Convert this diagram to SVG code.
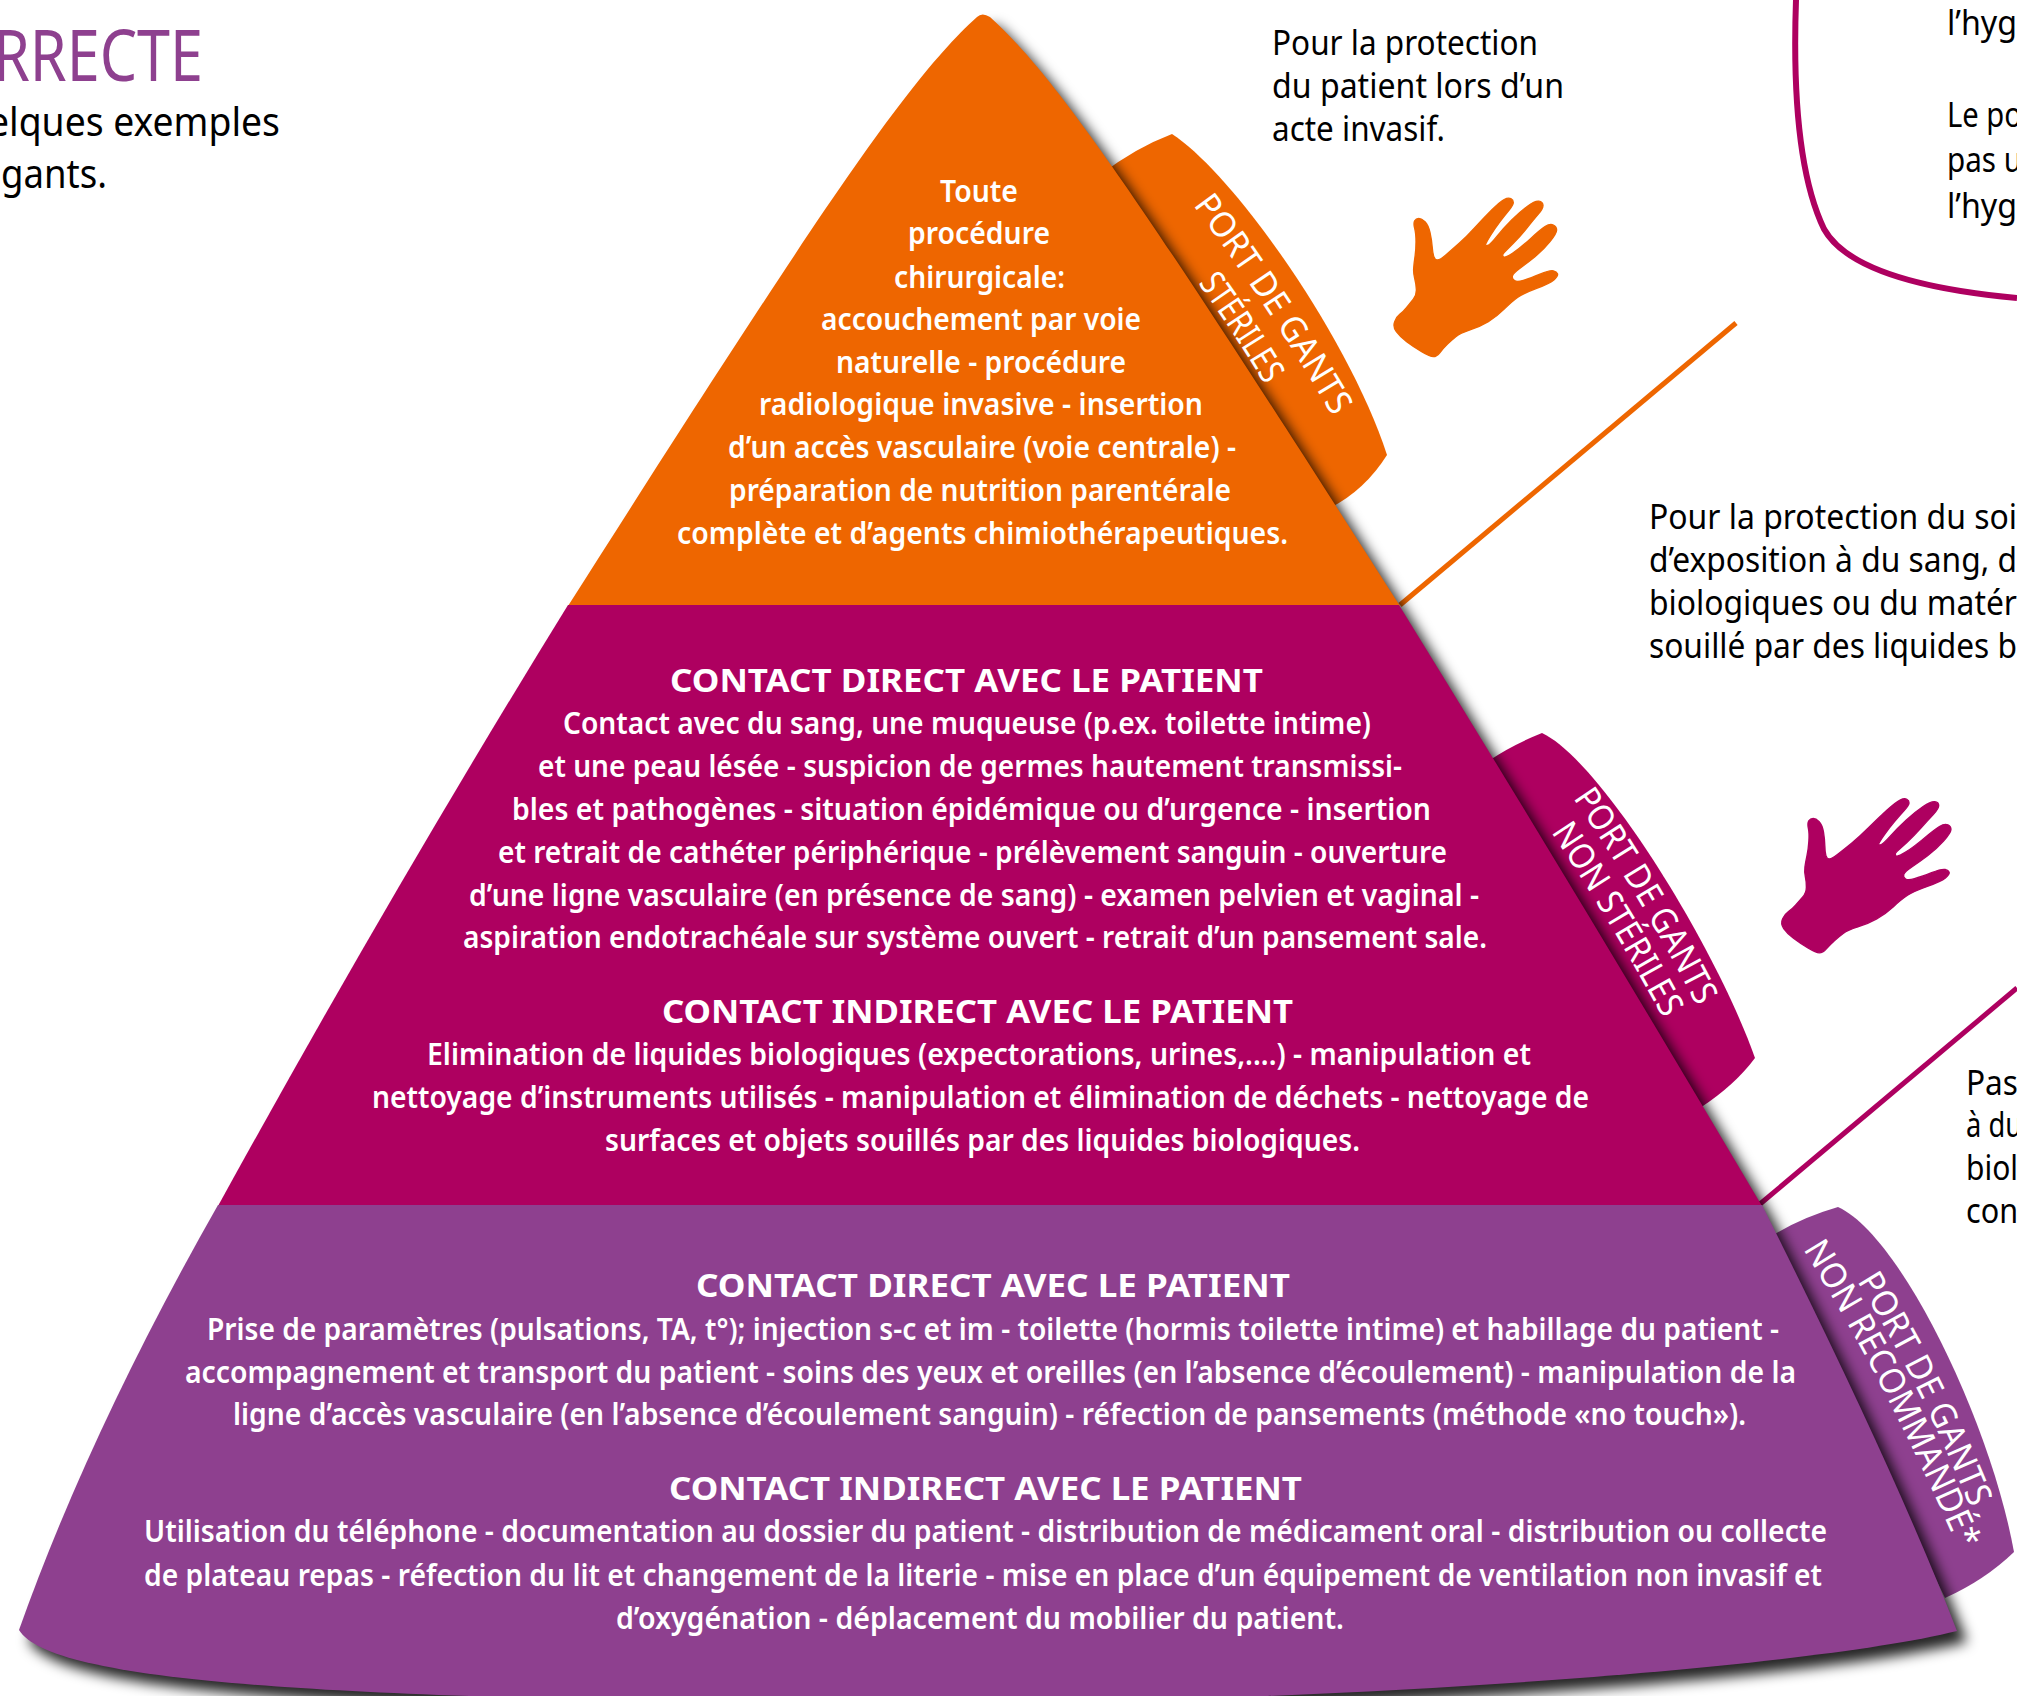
<svg xmlns="http://www.w3.org/2000/svg" width="2017" height="1696" viewBox="0 0 2017 1696">
<style>
text{font-family:"Noto Sans","Open Sans","Liberation Sans",sans-serif}
.b{font-size:30px;font-weight:600;fill:#fff}
.h{font-size:33px;font-weight:700;fill:#fff}
.n{font-size:34px;fill:#000}
.l{font-size:35px;fill:#fff}
.o{fill:#EE6600}.m{fill:#AE0060}.p{fill:#8E408F}
.c{fill:none;stroke-width:5}
</style>
<defs>
<filter id="blur" x="-5%" y="-5%" width="110%" height="110%"><feGaussianBlur stdDeviation="6.5"/></filter>
<path id="hand" stroke-width="4" stroke-linejoin="round" d="M160,560 Q150,560 125,545 Q100,530 80,515 Q60,500 49,485 Q38,470 44,455 Q50,440 60,432.5 Q70,425 80,412.5 Q90,400 100,387.5 Q110,375 109,357.5 Q108,340 104,325 Q100,310 101,295 Q102,280 105,260 Q108,240 108,215 Q108,190 104,175 Q100,160 104,152.5 Q108,145 116.5,145 Q125,145 135,155 Q145,165 150,187.5 Q155,210 156.5,230 Q158,250 161.5,260 Q165,270 172.5,270 Q180,270 197.5,255 Q215,240 237.5,220 Q260,200 285,172.5 Q310,145 335,120 Q360,95 372.5,88.5 Q385,82 392.5,86 Q400,90 400,97.5 Q400,105 387.5,120 Q375,135 360,155 Q345,175 332.5,195 Q320,215 317.5,221.5 Q315,228 322.5,226.5 Q330,225 350,200 Q370,175 395,150 Q420,125 442.5,108.5 Q465,92 476.5,93.5 Q488,95 489,105 Q490,115 475,132.5 Q460,150 440,175 Q420,200 400,220 Q380,240 372.5,247.5 Q365,255 370,260 Q375,265 397.5,250 Q420,235 450,207.5 Q480,180 495,170 Q510,160 520,165 Q530,170 530,180 Q530,190 510,215 Q490,240 465,260 Q440,280 420,295 Q400,310 397.5,317.5 Q395,325 402.5,331 Q410,337 430,331 Q450,325 480,312.5 Q510,300 520,302.5 Q530,305 532.5,311.5 Q535,318 522.5,329 Q510,340 470,355 Q430,370 412.5,382.5 Q395,395 372.5,417.5 Q350,440 325,455 Q300,470 270,480 Q240,490 227.5,500 Q215,510 202.5,522.5 Q190,535 180,547.5 Q170,560 160,560Z"/>
<path id="t1a" d="M1193,205Q1268,305 1333,417L1353,452"/>
<path id="t1b" d="M1198,283Q1232,330 1262,380L1282,414"/>
<path id="t2a" d="M1573,798Q1640,895 1700,1012L1720,1051"/>
<path id="t2b" d="M1551,832Q1610,920 1663,1018L1683,1055"/>
<path id="t3a" d="M1857,1281Q1918,1380 1966,1497L1986,1546"/>
<path id="t3b" d="M1803,1249Q1885,1380 1958,1548L1978,1594"/>
</defs>
<g id="intro">
<text x="-7" y="81" style="font-size:71px;fill:#8E408F" textLength="210" lengthAdjust="spacingAndGlyphs">RRECTE</text>
<text x="-12" y="136" style="font-size:40px;fill:#000" textLength="292" lengthAdjust="spacingAndGlyphs">elques exemples</text>
<text x="1" y="188" style="font-size:40px;fill:#000" textLength="106" lengthAdjust="spacingAndGlyphs">gants.</text>
</g>
<g id="connectors">
<path class="c" style="stroke-width:6" stroke="#AE0060" d="M1796,0C1793,85 1798,175 1824,229C1848,272 1930,290 2017,298"/>
<path class="c" stroke="#EE6600" d="M1400,605L1736,323"/>
<path class="c" stroke="#AE0060" d="M1760,1204L2017,988"/>
</g>
<g id="note-hygiene">
<text class="n" x="1947" y="35" textLength="70" lengthAdjust="spacingAndGlyphs">l’hyg</text>
<text class="n" x="1947" y="127" textLength="75" lengthAdjust="spacingAndGlyphs">Le po</text>
<text class="n" x="1947" y="172" textLength="75" lengthAdjust="spacingAndGlyphs">pas u</text>
<text class="n" x="1947" y="218" textLength="70" lengthAdjust="spacingAndGlyphs">l’hyg</text>
</g>
<g id="note-sterile">
<text class="n" x="1272" y="55" textLength="266" lengthAdjust="spacingAndGlyphs">Pour la protection</text>
<text class="n" x="1272" y="98" textLength="292" lengthAdjust="spacingAndGlyphs">du patient lors d’un</text>
<text class="n" x="1272" y="141" textLength="173" lengthAdjust="spacingAndGlyphs">acte invasif.</text>
</g>
<g id="note-non-sterile">
<text class="n" x="1649" y="529" textLength="368" lengthAdjust="spacingAndGlyphs">Pour la protection du soi</text>
<text class="n" x="1649" y="572" textLength="368" lengthAdjust="spacingAndGlyphs">d’exposition à du sang, d</text>
<text class="n" x="1649" y="615" textLength="368" lengthAdjust="spacingAndGlyphs">biologiques ou du matér</text>
<text class="n" x="1649" y="658" textLength="368" lengthAdjust="spacingAndGlyphs">souillé par des liquides b</text>
</g>
<g id="note-none">
<text class="n" x="1966" y="1095" textLength="52" lengthAdjust="spacingAndGlyphs">Pas</text>
<text class="n" x="1966" y="1137" textLength="56" lengthAdjust="spacingAndGlyphs">à du</text>
<text class="n" x="1966" y="1180" textLength="52" lengthAdjust="spacingAndGlyphs">biol</text>
<text class="n" x="1966" y="1223" textLength="52" lengthAdjust="spacingAndGlyphs">con</text>
</g>
<g id="hand-orange"><use href="#hand" class="o" stroke="#EE6600" transform="translate(1380,170) scale(.3333)"/></g>
<g id="hand-magenta"><use href="#hand" class="m" stroke="#AE0060" transform="translate(1770,771.4) matrix(.335,0,-.02,.324,7,0)"/></g>
<g id="tab-orange"><path class="o" d="M1100,175Q1135,148 1172,134C1235,175 1350,340 1387,455Q1365,490 1330,508Z"/></g>
<g id="tab-magenta"><path class="m" d="M1490,760Q1512,745 1542,733C1600,760 1715,945 1755,1058Q1735,1085 1700,1108Z"/></g>
<g id="tab-purple"><path class="p" d="M1772,1236Q1800,1218 1838,1207C1900,1235 1990,1420 2014,1552Q1985,1580 1945,1598Z"/></g>
<path id="pyramid-shadow" transform="translate(10,11)" filter="url(#blur)" fill="#000" fill-opacity=".85" d="M977,17Q982,12 990,17C1060,80 1150,215 1399,605Q1578,895 1762,1206Q1895,1470 1957,1631C1800,1670 1300,1705 900,1703C300,1700 50,1680 19,1630Q90,1430 218,1205Q389,895 568,605C817,215 907,80 977,17Z"/>
<g id="tier-orange">
<path class="o" d="M977,17Q982,12 990,17C1060,80 1150,215 1400,606L568,606C817,215 907,80 977,17Z"/>
<text class="b" x="940" y="202" textLength="78" lengthAdjust="spacingAndGlyphs">Toute</text>
<text class="b" x="908" y="244" textLength="142" lengthAdjust="spacingAndGlyphs">procédure</text>
<text class="b" x="894" y="288" textLength="171" lengthAdjust="spacingAndGlyphs">chirurgicale:</text>
<text class="b" x="821" y="330" textLength="320" lengthAdjust="spacingAndGlyphs">accouchement par voie</text>
<text class="b" x="836" y="373" textLength="290" lengthAdjust="spacingAndGlyphs">naturelle - procédure</text>
<text class="b" x="759" y="415" textLength="444" lengthAdjust="spacingAndGlyphs">radiologique invasive - insertion</text>
<text class="b" x="728" y="458" textLength="508" lengthAdjust="spacingAndGlyphs">d’un accès vasculaire (voie centrale) -</text>
<text class="b" x="729" y="501" textLength="502" lengthAdjust="spacingAndGlyphs">préparation de nutrition parentérale</text>
<text class="b" x="677" y="544" textLength="611" lengthAdjust="spacingAndGlyphs">complète et d’agents chimiothérapeutiques.</text>
</g>
<g id="tier-magenta">
<path class="m" d="M568,605L1399,605Q1578,895 1762,1206L218,1206Q389,895 568,605Z"/>
<text class="h" x="670" y="692" textLength="593" lengthAdjust="spacingAndGlyphs">CONTACT DIRECT AVEC LE PATIENT</text>
<text class="b" x="563" y="734" textLength="808" lengthAdjust="spacingAndGlyphs">Contact avec du sang, une muqueuse (p.ex. toilette intime)</text>
<text class="b" x="538" y="777" textLength="864" lengthAdjust="spacingAndGlyphs">et une peau lésée - suspicion de germes hautement transmissi-</text>
<text class="b" x="512" y="820" textLength="919" lengthAdjust="spacingAndGlyphs">bles et pathogènes - situation épidémique ou d’urgence - insertion</text>
<text class="b" x="498" y="863" textLength="949" lengthAdjust="spacingAndGlyphs">et retrait de cathéter périphérique - prélèvement sanguin - ouverture</text>
<text class="b" x="469" y="906" textLength="1010" lengthAdjust="spacingAndGlyphs">d’une ligne vasculaire (en présence de sang) - examen pelvien et vaginal -</text>
<text class="b" x="463" y="948" textLength="1024" lengthAdjust="spacingAndGlyphs">aspiration endotrachéale sur système ouvert - retrait d’un pansement sale.</text>
<text class="h" x="662" y="1023" textLength="631" lengthAdjust="spacingAndGlyphs">CONTACT INDIRECT AVEC LE PATIENT</text>
<text class="b" x="427" y="1065" textLength="1104" lengthAdjust="spacingAndGlyphs">Elimination de liquides biologiques (expectorations, urines,....) - manipulation et</text>
<text class="b" x="372" y="1108" textLength="1217" lengthAdjust="spacingAndGlyphs">nettoyage d’instruments utilisés - manipulation et élimination de déchets - nettoyage de</text>
<text class="b" x="605" y="1151" textLength="755" lengthAdjust="spacingAndGlyphs">surfaces et objets souillés par des liquides biologiques.</text>
</g>
<g id="tier-purple">
<path class="p" d="M218,1205L1762,1205Q1895,1470 1957,1631C1800,1670 1300,1705 900,1703C300,1700 50,1680 19,1630Q90,1430 218,1205Z"/>
<text class="h" x="696" y="1297" textLength="594" lengthAdjust="spacingAndGlyphs">CONTACT DIRECT AVEC LE PATIENT</text>
<text class="b" x="207" y="1340" textLength="1572" lengthAdjust="spacingAndGlyphs">Prise de paramètres (pulsations, TA, t°); injection s-c et im - toilette (hormis toilette intime) et habillage du patient -</text>
<text class="b" x="185" y="1383" textLength="1611" lengthAdjust="spacingAndGlyphs">accompagnement et transport du patient - soins des yeux et oreilles (en l’absence d’écoulement) - manipulation de la</text>
<text class="b" x="233" y="1425" textLength="1513" lengthAdjust="spacingAndGlyphs">ligne d’accès vasculaire (en l’absence d’écoulement sanguin) - réfection de pansements (méthode «no touch»).</text>
<text class="h" x="669" y="1500" textLength="633" lengthAdjust="spacingAndGlyphs">CONTACT INDIRECT AVEC LE PATIENT</text>
<text class="b" x="144" y="1542" textLength="1683" lengthAdjust="spacingAndGlyphs">Utilisation du téléphone - documentation au dossier du patient - distribution de médicament oral - distribution ou collecte</text>
<text class="b" x="144" y="1586" textLength="1678" lengthAdjust="spacingAndGlyphs">de plateau repas - réfection du lit et changement de la literie - mise en place d’un équipement de ventilation non invasif et</text>
<text class="b" x="616" y="1629" textLength="728" lengthAdjust="spacingAndGlyphs">d’oxygénation - déplacement du mobilier du patient.</text>
</g>
<g id="tab-labels">
<text class="l"><textPath href="#t1a" textLength="254" lengthAdjust="spacingAndGlyphs">PORT DE GANTS</textPath></text>
<text class="l"><textPath href="#t1b" textLength="122" lengthAdjust="spacingAndGlyphs">STÉRILES</textPath></text>
<text class="l"><textPath href="#t2a" textLength="243" lengthAdjust="spacingAndGlyphs">PORT DE GANTS</textPath></text>
<text class="l"><textPath href="#t2b" textLength="218" lengthAdjust="spacingAndGlyphs">NON STÉRILES</textPath></text>
<text class="l"><textPath href="#t3a" textLength="254" lengthAdjust="spacingAndGlyphs">PORT DE GANTS</textPath></text>
<text class="l"><textPath href="#t3b" textLength="340" lengthAdjust="spacingAndGlyphs">NON RECOMMANDÉ*</textPath></text>
</g>
</svg>
